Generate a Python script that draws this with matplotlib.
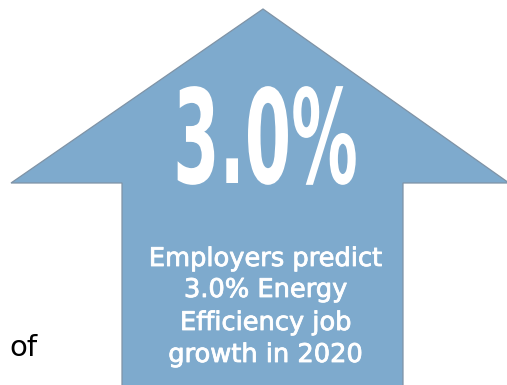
import matplotlib.pyplot as plt
import matplotlib.patheffects as pe
from matplotlib.patches import Polygon
from matplotlib.transforms import Affine2D

# values shown on the graphic
growth_pct = 3.0
year = 2020
caption_lines = ['Employers predict',
                 f'{growth_pct:.1f}% Energy',
                 'Efficiency job',
                 f'growth in {year}']
side_word = 'of'

# arrow geometry (pixels, y down)
tip = (263, 9)
head_left, head_right, head_base = 11, 509, 183
shaft_left, shaft_right = 122, 403

fill_col = '#7eaacd'
edge_col = '#7f93a6'


class Squeeze(pe.AbstractPathEffect):
    # narrow the glyphs horizontally around a display x position
    def __init__(self, sx, cx):
        super().__init__()
        self.sx = sx
        self.cx = cx

    def draw_path(self, renderer, gc, tpath, affine, rgbFace=None):
        sq = Affine2D().translate(-self.cx, 0).scale(self.sx, 1).translate(self.cx, 0)
        renderer.draw_path(gc, tpath, affine + sq, rgbFace)


fig = plt.figure(figsize=(5.07, 3.85), dpi=100)
ax = fig.add_axes([0, 0, 1, 1])
ax.set_xlim(0, 507)
ax.set_ylim(385, 0)
ax.axis('off')

verts = [tip, (head_right, head_base), (shaft_right, head_base), (shaft_right, 390),
         (shaft_left, 390), (shaft_left, head_base), (head_left, head_base)]
ax.add_patch(Polygon(verts, closed=True, facecolor=fill_col, edgecolor=edge_col, lw=0.9))

# big number
cx = 265.5
t = ax.text(cx, 183, f'{growth_pct:.1f}%', ha='center', va='baseline', color='white',
            fontsize=94, fontweight='bold', family='DejaVu Sans')
t.set_path_effects([Squeeze(0.51, cx)])

baselines = [266, 297, 330, 362]
for line, yb in zip(caption_lines, baselines):
    ax.text(266, yb, line, ha='center', va='baseline', color='white',
            fontsize=18.5, family='DejaVu Sans',
            path_effects=[pe.withStroke(linewidth=0.6, foreground='white')])

ax.text(9, 356, side_word, ha='left', va='baseline', color='black',
        fontsize=21, family='DejaVu Sans')

fig.savefig('out.png', dpi=100)
